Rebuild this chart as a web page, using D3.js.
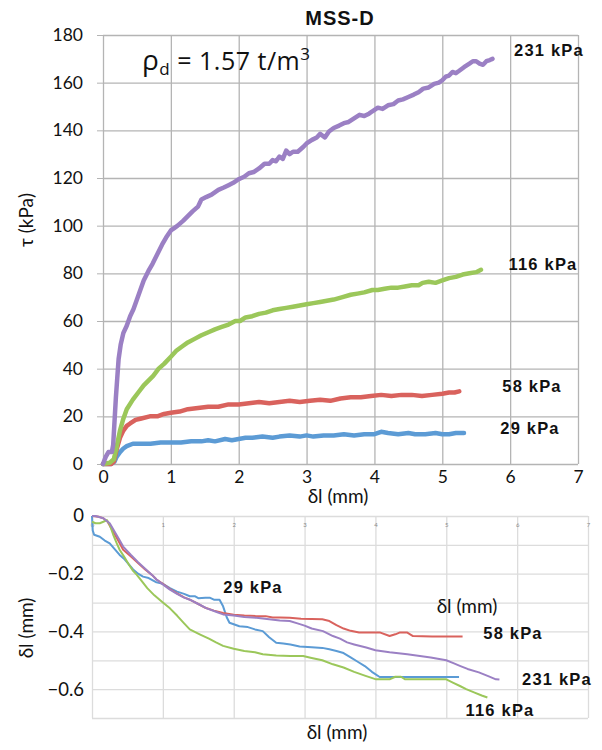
<!DOCTYPE html>
<html><head><meta charset="utf-8">
<script src="https://cdn.jsdelivr.net/npm/d3@7"></script>
<style>body{margin:0;background:#fff}svg{display:block}</style>
</head><body>
<svg id="c" width="602" height="750"></svg>
<script>
// ---------- DATA ----------
const xTicks = [0,1,2,3,4,5,6,7];
const tauTicks = [0,20,40,60,80,100,120,140,160,180];
const settleTicks = [0,-0.2,-0.4,-0.6];
const settleGrid = [0,-0.1,-0.2,-0.3,-0.4,-0.5,-0.6,-0.7];
const seriesNames = ["29 kPa","58 kPa","116 kPa","231 kPa"];
const seriesColors = ["#5b9bd5","#d9625d","#9bc75a","#9b80c4"];

// shear stress tau (kPa) vs horizontal displacement (mm)
const tau29 = [[0,0],[0.12,0],[0.17,1],[0.2,3],[0.25,5],[0.3,6.5],[0.35,7.5],[0.44,8.5],[0.55,8.5],[0.7,8.5],[0.85,9],[1.0,9],[1.15,9],[1.3,9.5],[1.45,9.5],[1.55,10],[1.65,9.5],[1.8,10.5],[1.9,10],[2.0,10.5],[2.1,11],[2.2,11],[2.35,11.5],[2.5,11],[2.6,11.5],[2.75,12],[2.9,11.5],[3.0,12],[3.1,11.5],[3.25,12],[3.4,12],[3.55,12.5],[3.7,12],[3.85,12.5],[4.0,12.5],[4.1,13.5],[4.2,13],[4.35,12.5],[4.5,13],[4.6,12.5],[4.75,12.5],[4.9,13],[5.0,12.5],[5.1,12.5],[5.2,13],[5.32,13]];
const tau58 = [[0,0],[0.12,0],[0.16,1],[0.2,6],[0.25,11],[0.3,14],[0.35,16],[0.4,17],[0.48,18.5],[0.55,19],[0.69,20],[0.8,20],[0.9,21],[1.0,21.5],[1.13,22],[1.25,23],[1.4,23.5],[1.55,24],[1.7,24],[1.85,25],[2.0,25],[2.15,25.5],[2.3,26],[2.45,25.5],[2.6,26],[2.75,26.5],[2.9,26],[3.05,26.5],[3.2,27],[3.35,26.5],[3.5,27.5],[3.65,28],[3.8,28],[3.95,28.5],[4.1,29],[4.25,28.5],[4.4,29],[4.55,29],[4.7,28.5],[4.85,29],[5.0,29.5],[5.1,30],[5.18,30],[5.25,30.5]];
const tau116 = [[0,0],[0.1,0.5],[0.16,2],[0.2,7],[0.25,14],[0.3,19],[0.35,23],[0.44,27],[0.52,30],[0.6,33],[0.67,35],[0.74,37],[0.82,40],[0.9,42],[1.0,45],[1.08,47.5],[1.15,49],[1.25,51],[1.35,52.5],[1.45,54],[1.57,55.5],[1.65,56.5],[1.75,57.5],[1.85,58.5],[1.95,60],[2.02,60],[2.1,61.5],[2.2,62],[2.3,63],[2.4,63.5],[2.5,64.5],[2.6,65],[2.7,65.5],[2.8,66],[2.9,66.5],[3.0,67],[3.1,67.5],[3.2,68],[3.3,68.5],[3.4,69],[3.53,70],[3.65,71],[3.75,71.5],[3.85,72],[3.97,73],[4.05,73],[4.15,73.5],[4.25,74],[4.35,74],[4.45,74.5],[4.55,75],[4.65,75],[4.71,76],[4.8,76.5],[4.9,76],[5.0,77],[5.1,78],[5.2,78.5],[5.3,79.5],[5.4,80],[5.5,80.5],[5.57,81.5]];
const tau231 = [[0,0],[0.04,3],[0.08,5],[0.13,5],[0.15,8],[0.17,18],[0.19,28],[0.21,36],[0.23,44],[0.26,50],[0.3,55],[0.35,58],[0.4,62],[0.45,65],[0.5,69],[0.55,73],[0.6,77],[0.67,81],[0.73,84],[0.8,88],[0.87,92],[0.93,95],[1.0,98],[1.05,99],[1.1,100],[1.18,102],[1.25,104],[1.32,106],[1.4,108],[1.45,111],[1.52,112],[1.6,113],[1.7,115],[1.78,116],[1.85,117],[1.92,118],[2.0,119.5],[2.08,120.5],[2.15,122],[2.22,122.5],[2.3,124],[2.38,126],[2.45,126],[2.5,127.5],[2.55,127],[2.6,129],[2.65,128],[2.7,131.5],[2.75,130],[2.8,131],[2.87,131],[2.95,133],[3.0,134.5],[3.08,136],[3.15,137],[3.2,138.5],[3.27,137],[3.33,139.5],[3.4,141],[3.48,142],[3.55,143],[3.62,143.5],[3.7,145],[3.78,146.5],[3.85,146],[3.92,147],[3.97,148],[4.05,149.5],[4.12,149],[4.2,150.5],[4.28,151],[4.35,152.5],[4.42,153],[4.5,154],[4.58,155],[4.65,156],[4.72,157.5],[4.8,158],[4.88,159.5],[4.95,160],[5.0,161],[5.05,162.5],[5.1,163],[5.15,164.5],[5.2,164],[5.25,165],[5.32,166.5],[5.4,168],[5.45,169],[5.5,169],[5.55,168],[5.6,167.5],[5.65,169],[5.7,169.5],[5.74,170]];

// vertical displacement (mm) vs horizontal displacement (mm)
const dv29 = [[0,0],[0.01,-0.05],[0.03,-0.065],[0.11,-0.072],[0.18,-0.085],[0.25,-0.095],[0.32,-0.115],[0.39,-0.135],[0.46,-0.15],[0.52,-0.168],[0.58,-0.185],[0.65,-0.2],[0.72,-0.21],[0.8,-0.215],[0.91,-0.23],[1.0,-0.235],[1.1,-0.25],[1.2,-0.262],[1.3,-0.27],[1.38,-0.278],[1.45,-0.278],[1.5,-0.285],[1.6,-0.283],[1.66,-0.283],[1.72,-0.29],[1.8,-0.29],[1.85,-0.313],[1.9,-0.35],[1.94,-0.37],[2.0,-0.375],[2.08,-0.382],[2.2,-0.385],[2.3,-0.393],[2.41,-0.399],[2.5,-0.42],[2.6,-0.439],[2.7,-0.442],[2.8,-0.445],[2.93,-0.452],[3.1,-0.455],[3.25,-0.457],[3.35,-0.462],[3.45,-0.468],[3.55,-0.475],[3.65,-0.49],[3.75,-0.505],[3.85,-0.52],[3.95,-0.54],[4.06,-0.558],[4.5,-0.558],[5.18,-0.558]];
const dv58 = [[0,0],[0.1,-0.003],[0.16,-0.008],[0.22,-0.02],[0.3,-0.055],[0.37,-0.085],[0.44,-0.117],[0.55,-0.14],[0.65,-0.163],[0.75,-0.185],[0.85,-0.205],[0.91,-0.22],[1.0,-0.235],[1.1,-0.253],[1.2,-0.268],[1.3,-0.282],[1.38,-0.29],[1.5,-0.305],[1.6,-0.318],[1.72,-0.328],[1.85,-0.336],[2.0,-0.342],[2.15,-0.345],[2.32,-0.347],[2.45,-0.347],[2.55,-0.352],[2.65,-0.352],[2.79,-0.353],[2.95,-0.356],[3.1,-0.357],[3.25,-0.358],[3.35,-0.364],[3.45,-0.378],[3.55,-0.39],[3.65,-0.398],[3.77,-0.404],[4.07,-0.404],[4.2,-0.416],[4.28,-0.41],[4.34,-0.404],[4.45,-0.404],[4.53,-0.416],[4.8,-0.418],[5.23,-0.418]];
const dv116 = [[0,-0.02],[0.05,-0.025],[0.11,-0.025],[0.16,-0.02],[0.21,-0.014],[0.25,-0.03],[0.3,-0.065],[0.35,-0.095],[0.39,-0.117],[0.45,-0.14],[0.52,-0.168],[0.58,-0.19],[0.63,-0.203],[0.7,-0.225],[0.78,-0.25],[0.88,-0.275],[1.0,-0.3],[1.1,-0.32],[1.2,-0.345],[1.3,-0.372],[1.38,-0.393],[1.52,-0.41],[1.65,-0.425],[1.75,-0.438],[1.85,-0.45],[2.0,-0.46],[2.15,-0.468],[2.3,-0.472],[2.41,-0.479],[2.6,-0.483],[2.8,-0.485],[2.98,-0.485],[3.1,-0.492],[3.25,-0.5],[3.4,-0.514],[3.55,-0.525],[3.7,-0.54],[3.85,-0.553],[4.01,-0.566],[4.2,-0.566],[4.28,-0.557],[4.36,-0.557],[4.42,-0.566],[5.0,-0.566],[5.1,-0.578],[5.2,-0.59],[5.28,-0.6],[5.4,-0.612],[5.5,-0.622],[5.58,-0.629]];
const dv231 = [[0,0],[0.05,0],[0.16,-0.008],[0.25,-0.025],[0.32,-0.055],[0.38,-0.08],[0.44,-0.106],[0.55,-0.135],[0.65,-0.16],[0.75,-0.183],[0.85,-0.205],[0.91,-0.22],[1.0,-0.237],[1.1,-0.255],[1.2,-0.27],[1.3,-0.283],[1.38,-0.29],[1.5,-0.305],[1.62,-0.32],[1.75,-0.332],[1.85,-0.341],[2.0,-0.345],[2.15,-0.35],[2.32,-0.353],[2.5,-0.358],[2.65,-0.362],[2.79,-0.364],[2.9,-0.372],[3.0,-0.38],[3.1,-0.39],[3.26,-0.399],[3.4,-0.416],[3.5,-0.425],[3.6,-0.438],[3.7,-0.445],[3.87,-0.456],[4.0,-0.465],[4.2,-0.472],[4.45,-0.479],[4.78,-0.49],[5.0,-0.5],[5.1,-0.51],[5.2,-0.52],[5.3,-0.53],[5.46,-0.542],[5.6,-0.556],[5.7,-0.566],[5.75,-0.567]];

const tauSeries = [tau29, tau58, tau116, tau231];
const dvSeries = [dv29, dv58, dv116, dv231];

// ---------- DRAW ----------
const svg = d3.select("#c");
const tickFont = "Lato, 'Open Sans', sans-serif";
const labFont = "'Liberation Sans', Arial, sans-serif";
const intFmt = d3.format("d");

const defs = svg.append("defs");
defs.append("filter").attr("id","soft").attr("x","-5%").attr("y","-5%").attr("width","110%").attr("height","110%")
  .append("feGaussianBlur").attr("stdDeviation",0.7);

// ===== Top chart =====
const xT = d3.scaleLinear().domain([0,7]).range([103,578]);
const yT = d3.scaleLinear().domain([0,180]).range([464,35]);

const gT = svg.append("g");
gT.append("g").attr("transform","translate(0,464)")
  .call(d3.axisBottom(xT).tickValues(xTicks).tickSize(-(464-35)).tickFormat(""))
  .call(g=>g.select(".domain").remove())
  .call(g=>g.selectAll("line").attr("stroke","#b4b4b4").attr("stroke-width",1.3));
gT.append("g").attr("transform","translate(103,0)")
  .call(d3.axisLeft(yT).tickValues(tauTicks).tickSize(-(578-103)).tickFormat(""))
  .call(g=>g.select(".domain").remove())
  .call(g=>g.selectAll("line").attr("stroke","#b4b4b4").attr("stroke-width",1.3));
gT.append("g").attr("transform","translate(103,0)")
  .call(d3.axisLeft(yT).tickValues(tauTicks).tickSize(6).tickPadding(14).tickFormat(intFmt))
  .call(g=>g.select(".domain").remove())
  .call(g=>g.selectAll("line").attr("stroke","#b4b4b4"))
  .call(g=>g.selectAll("text").attr("font-family",tickFont).attr("font-size",17.5).attr("fill","#111"));
gT.append("g").attr("transform","translate(0,464)")
  .call(d3.axisBottom(xT).tickValues(xTicks).tickSize(0).tickPadding(7).tickFormat(intFmt))
  .call(g=>g.select(".domain").remove())
  .call(g=>g.selectAll("text").attr("font-family",tickFont).attr("font-size",17.5).attr("fill","#111"));

const lineT = d3.line().x(d=>xT(d[0])).y(d=>yT(d[1]));
gT.append("g").attr("filter","url(#soft)").selectAll("path").data(tauSeries).join("path")
  .attr("d",lineT).attr("fill","none")
  .attr("stroke",(d,i)=>seriesColors[i]).attr("stroke-width",4.5)
  .attr("stroke-linejoin","round").attr("stroke-linecap","round");

// title
svg.append("text").attr("x",340).attr("y",25).attr("text-anchor","middle")
  .attr("font-family",labFont).attr("font-weight","bold").attr("font-size",20).attr("letter-spacing",1)
  .attr("fill","#111").text("MSS-D");
// density
const dens = svg.append("text").attr("x",142).attr("y",70).attr("font-family","'Open Sans', sans-serif")
  .attr("font-size",25).attr("letter-spacing",0.5).attr("fill","#111");
dens.append("tspan").attr("font-size",28).text("ρ");
dens.append("tspan").attr("font-size",17).attr("dy",5).text("d");
dens.append("tspan").attr("dy",-5).text(" = 1.57 t/m");
dens.append("tspan").attr("font-size",17).attr("dy",-10).text("3");

// series labels top
const topLabData = [
  {name:seriesNames[3], x:549, y:56},
  {name:seriesNames[2], x:543, y:270},
  {name:seriesNames[1], x:532, y:392},
  {name:seriesNames[0], x:530, y:434}
];
svg.append("g").selectAll("text").data(topLabData).join("text")
  .attr("x",d=>d.x).attr("y",d=>d.y).attr("text-anchor","middle")
  .attr("font-family",labFont).attr("font-weight","bold").attr("font-size",16.5).attr("letter-spacing",1.2)
  .attr("fill","#111").text(d=>d.name);

svg.append("text").attr("x",338).attr("y",503).attr("text-anchor","middle")
  .attr("font-family",tickFont).attr("font-size",19).attr("fill","#111").text("δl (mm)");
svg.append("text").attr("transform","translate(33,220) rotate(-90)").attr("text-anchor","middle")
  .attr("font-family",tickFont).attr("font-size",19).attr("fill","#111").text("τ (kPa)");

// ===== Bottom chart =====
const xB = d3.scaleLinear().domain([0,7]).range([92,588]);
const yB = d3.scaleLinear().domain([-0.7,0]).range([718,516]);
const gB = svg.append("g");
gB.append("g").attr("transform","translate(0,718)")
  .call(d3.axisBottom(xB).tickValues(xTicks).tickSize(-(718-516)).tickFormat(""))
  .call(g=>g.select(".domain").remove())
  .call(g=>g.selectAll("line").attr("stroke","#dcdcdc").attr("stroke-width",1.3));
gB.append("g").attr("transform","translate(92,0)")
  .call(d3.axisLeft(yB).tickValues(settleGrid).tickSize(-(588-92)).tickFormat(""))
  .call(g=>g.select(".domain").remove())
  .call(g=>g.selectAll("line").attr("stroke","#dcdcdc").attr("stroke-width",1.3));
gB.append("g").attr("transform","translate(0,516)")
  .call(d3.axisBottom(xB).tickValues(xTicks).tickSize(0).tickPadding(7).tickFormat(intFmt))
  .call(g=>g.select(".domain").remove())
  .call(g=>g.selectAll("text").attr("font-family",tickFont).attr("font-size",6).attr("fill","#8a8a8a"));
gB.append("g").attr("transform","translate(92,0)")
  .call(d3.axisLeft(yB).tickValues(settleTicks).tickSize(0).tickPadding(8).tickFormat(d=>d===0?"0":d3.format(".1f")(d)))
  .call(g=>g.select(".domain").remove())
  .call(g=>g.selectAll("text").attr("font-family",tickFont).attr("font-size",18.5).attr("fill","#111"));

const lineB = d3.line().x(d=>xB(d[0])).y(d=>yB(d[1]));
gB.append("g").selectAll("path").data(dvSeries).join("path")
  .attr("d",lineB).attr("fill","none")
  .attr("stroke",(d,i)=>seriesColors[i]).attr("stroke-width",2)
  .attr("stroke-linejoin","round");

const botLabData = [
  {name:seriesNames[0], x:253, y:593},
  {name:seriesNames[1], x:513, y:639},
  {name:seriesNames[3], x:557, y:685},
  {name:seriesNames[2], x:500, y:716}
];
svg.append("g").selectAll("text").data(botLabData).join("text")
  .attr("x",d=>d.x).attr("y",d=>d.y).attr("text-anchor","middle")
  .attr("font-family",labFont).attr("font-weight","bold").attr("font-size",16.5).attr("letter-spacing",1.2)
  .attr("fill","#111").text(d=>d.name);

svg.append("text").attr("x",467).attr("y",613).attr("text-anchor","middle")
  .attr("font-family",tickFont).attr("font-size",19).attr("fill","#111").text("δl (mm)");
svg.append("text").attr("x",337).attr("y",739).attr("text-anchor","middle")
  .attr("font-family",tickFont).attr("font-size",19).attr("fill","#111").text("δl (mm)");
svg.append("text").attr("transform","translate(33,628) rotate(-90)").attr("text-anchor","middle")
  .attr("font-family",tickFont).attr("font-size",19).attr("fill","#111").text("δl (mm)");
</script>
</body></html>
